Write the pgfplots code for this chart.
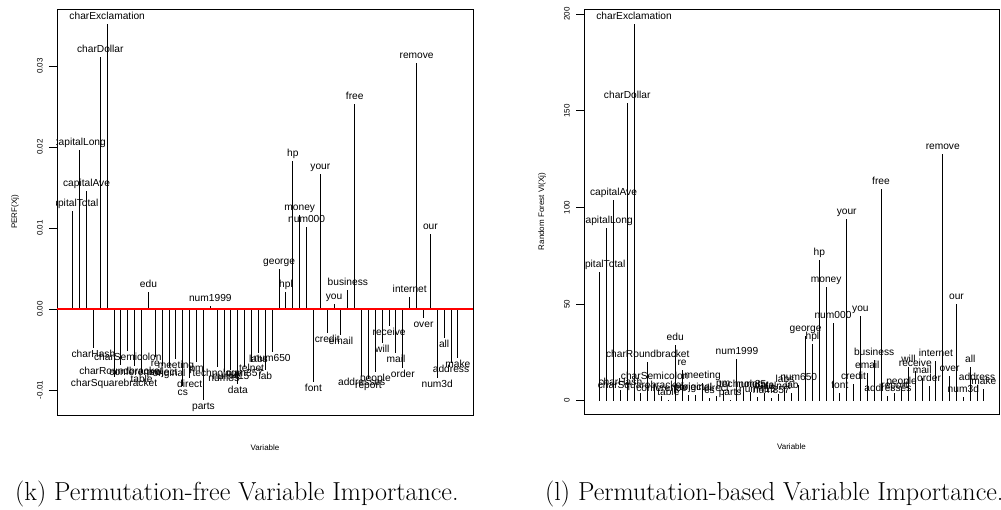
\documentclass[border=0pt]{standalone}
\usepackage{fontspec}
\newfontfamily\arial{Liberation Sans}
\usepackage{pgfplots}
\usepackage{pgfplotstable}
\pgfplotsset{compat=1.18}

% variables of the spam data, in reverse column order; s = label offset
\pgfplotstableread{
x y lab s
1 0.01214 capitalTotal 7
2 0.01963 capitalLong 7
3 0.01457 capitalAve 7
4 -0.00477 charHash -7
5 0.03107 charDollar 7
6 0.03515 charExclamation 7
7 -0.00835 charSquarebracket -7
8 -0.00691 charRoundbracket -7
9 -0.00514 charSemicolon -7
10 -0.00700 conference -7
11 -0.00786 table -7
12 0.00206 edu 7
13 -0.00588 re -7
14 -0.00700 project -7
15 -0.00720 original -7
16 -0.00617 meeting -7
17 -0.00947 cs -7
18 -0.00856 direct -7
19 -0.00650 pm -7
20 -0.01123 parts -7
21 0.00037 num1999 7
22 -0.00720 technology -7
23 -0.00782 num85 -7
24 -0.00753 num415 -7
25 -0.00930 data -7
26 -0.00712 num857 -7
27 -0.00658 telnet -7
28 -0.00547 labs -7
29 -0.00753 lab -7
30 -0.00535 num650 -7
31 0.00490 george 7
32 0.00214 hpl 7
33 0.01823 hp 7
34 0.01160 money 7
35 0.01017 num000 7
36 -0.00897 font -7
37 0.01667 your 7
38 -0.00300 credit -7
39 0.00058 you 7
40 -0.00320 email -7
41 0.00235 business 7
42 0.02527 free 7
43 -0.00823 addresses -7
44 -0.00864 report -7
45 -0.00782 people -7
46 -0.00424 will -7
47 -0.00210 receive -7
48 -0.00540 mail -7
49 -0.00733 order -7
50 0.00144 internet 7
51 0.03045 remove 7
52 -0.00115 over -7
53 0.00922 our 7
54 -0.00856 num3d -7
55 -0.00354 all -7
56 -0.00663 address -7
57 -0.00609 make -7
}\perf

\pgfplotstableread{
x y lab s
1 66.6 capitalTotal 7
2 89.2 capitalLong 7
3 103.7 capitalAve 7
4 5.7 charHash 7
5 153.9 charDollar 7
6 194.8 charExclamation 7
7 4.0 charSquarebracket 7
8 19.9 charRoundbracket 7
9 8.5 charSemicolon 7
10 2.3 conference 7
11 0.6 table 7
12 28.7 edu 7
13 15.7 re 7
14 3.1 project 7
15 2.7 original 7
16 9.2 meeting 7
17 1.4 cs 7
18 2.4 direct 7
19 5.0 pm 7
20 0.6 parts 7
21 21.5 num1999 7
22 4.7 technology 7
23 4.7 num85 7
24 1.7 num415 7
25 4.0 data 7
26 1.2 num857 7
27 3.3 telnet 7
28 7.3 labs 7
29 3.8 lab 7
30 8.1 num650 7
31 33.5 george 7
32 29.3 hpl 7
33 72.8 hp 7
34 58.7 money 7
35 40.0 num000 7
36 4.2 font 7
37 93.9 your 7
38 8.6 credit 7
39 43.8 you 7
40 14.5 email 7
41 20.9 business 7
42 109.4 free 7
43 2.4 addresses 7
44 3.8 report 7
45 6.2 people 7
46 17.6 will 7
47 15.5 receive 7
48 11.9 mail 7
49 7.6 order 7
50 20.7 internet 7
51 127.5 remove 7
52 12.8 over 7
53 49.9 our 7
54 1.7 num3d 7
55 17.6 all 7
56 8.1 address 7
57 6.2 make 7
}\rfvi

\newcommand\tickfont{\arial\fontsize{8}{9}\selectfont}
\newcommand\labfont{\arial\fontsize{10.2}{11}\selectfont}

\pgfplotsset{
  vi/.style={
    scale only axis,
    xmin=-1.3, xmax=59.2,
    xtick=\empty,
    ytick pos=left,
    tick align=outside,
    major tick length=8pt,
    axis line style={black, line width=0.8pt},
    tick style={black, line width=0.8pt},
    scaled y ticks=false,
    /pgf/number format/assume math mode=true,
    yticklabel style={font=\tickfont, xshift=-6pt, rotate=90, anchor=south, inner sep=0pt},
    every axis x label/.style={font=\tickfont, at={(axis description cs:0.5,0)}, anchor=center, yshift=-33pt},
    every axis y label/.style={font=\tickfont, at={(axis description cs:0,0.5)}, xshift=-42pt, rotate=90, anchor=center},
    xlabel={Variable},
    clip marker paths=true,
  },
  comb/.style={
    ycomb, black, line width=1pt, mark=none,
    nodes near coords, point meta=explicit symbolic,
    visualization depends on={\thisrow{s} \as \sg},
    every node near coord/.append style={font=\labfont, anchor=center, inner sep=0pt,
      text height=7pt, text depth=2pt, yshift={\sg*1pt}},
  },
}

\begin{document}
\begin{tikzpicture}
\useasboundingbox (0,0) rectangle (1001pt,509pt);

\begin{axis}[vi,
  at={(57pt,94pt)}, anchor=south west,
  width=416pt, height=406pt,
  ymin=-0.01309, ymax=0.03706,
  ytick={-0.01,0,0.01,0.02,0.03},
  yticklabel style={/pgf/number format/fixed, /pgf/number format/fixed zerofill, /pgf/number format/precision=2},
  ylabel={PERF(Xj)}]
\addplot[comb] table[x=x, y=y, meta=lab] {\perf};
\addplot[red, line width=1.2pt, forget plot] coordinates {(-1.3,0) (59.2,0)};
\end{axis}

\begin{axis}[vi,
  at={(584pt,95pt)}, anchor=south west,
  width=415pt, height=405pt,
  ymin=-6.9, ymax=202.7,
  ytick={0,50,100,150,200},
  ylabel={Random Forest VI(Xj)}]
\addplot[comb] table[x=x, y=y, meta=lab] {\rfvi};
\end{axis}

\node[anchor=base west, inner sep=0pt, font=\fontsize{26.1}{30}\selectfont] at (15pt,9pt)
  {(k) Permutation-free Variable Importance.};
\node[anchor=base west, inner sep=0pt, font=\fontsize{26.1}{30}\selectfont] at (545pt,9pt)
  {(l) Permutation-based Variable Importance.};
\end{tikzpicture}
\end{document}
